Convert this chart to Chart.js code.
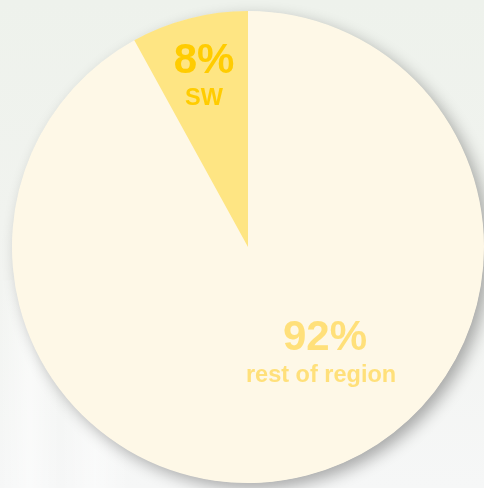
<!DOCTYPE html>
<html>
<head>
<meta charset="utf-8">
<script src="https://cdn.jsdelivr.net/npm/chart.js@4"></script>
<style>
  html, body { margin: 0; padding: 0; }
  body {
    width: 484px; height: 488px; overflow: hidden;
    background:
      linear-gradient(90deg, rgba(255,255,255,0) 0px, rgba(255,255,255,0.5) 30px, rgba(255,255,255,0) 60px, rgba(255,255,255,0.45) 95px, rgba(255,255,255,0) 130px) 0 280px / 160px 208px no-repeat,
      linear-gradient(180deg, #eef2ec 0%, #f1f3ef 45%, #f6f7f7 100%);
  }
  #wrap { position: relative; width: 484px; height: 488px; }
</style>
</head>
<body>
<div id="wrap"><canvas id="pie" width="484" height="488"></canvas></div>
<script>
const labels = ["rest of region", "SW"];
const shares = [92, 8];
const subLabels = ["rest of region", "SW"];

const SLICE_COLORS = ["#fef8e7", "#fee583"];
const TEXT_COLORS  = ["#ffe07a", "#ffcc00"];

// ── Drop shadow under the whole disc (drawn once, not per slice) ──
const pieShadow = {
  id: "pieShadow",
  beforeDatasetsDraw(chart) {
    const arc = chart.getDatasetMeta(0).data[0];
    if (!arc) return;
    const { x, y, outerRadius } = arc.getProps(["x", "y", "outerRadius"], true);
    const c = chart.ctx;
    c.save();
    c.shadowColor = "rgba(0,0,0,0.32)";
    c.shadowBlur = 16;
    c.shadowOffsetX = 6;
    c.shadowOffsetY = 6;
    c.fillStyle = SLICE_COLORS[0];
    c.beginPath();
    c.arc(x, y, outerRadius - 0.5, 0, Math.PI * 2);
    c.fill();
    c.restore();
  }
};

// ── Percent + name labels on each slice ──
// anchor = baseline of the percent text: (fraction of radius, degrees clockwise from 12 o'clock)
const LABEL_POS = [
  { r: 0.545, a: 143.2 },
  { r: 0.76, a: -14.2 }
];

const sliceLabels = {
  id: "sliceLabels",
  afterDatasetsDraw(chart) {
    const c = chart.ctx;
    const arcs = chart.getDatasetMeta(0).data;
    arcs.forEach((arc, i) => {
      const { x, y, outerRadius } = arc.getProps(["x", "y", "outerRadius"], true);
      const p = LABEL_POS[i];
      const ang = (p.a - 90) * Math.PI / 180;
      const cx = x + Math.cos(ang) * outerRadius * p.r;
      const cy = y + Math.sin(ang) * outerRadius * p.r;
      c.save();
      c.fillStyle = TEXT_COLORS[i];
      c.textAlign = "center";
      c.textBaseline = "alphabetic";
      c.font = "bold 42px 'Liberation Sans', Arial, sans-serif";
      c.fillText(shares[i] + "%", cx, cy);
      c.font = "bold 23.5px 'Liberation Sans', Arial, sans-serif";
      c.fillText(subLabels[i], cx - (i === 0 ? 4 : 0), cy + 32);
      c.restore();
    });
  }
};

new Chart(document.getElementById("pie"), {
  type: "pie",
  data: {
    labels,
    datasets: [{
      data: shares,
      backgroundColor: SLICE_COLORS,
      borderWidth: 0,
      hoverOffset: 0
    }]
  },
  options: {
    responsive: false,
    animation: false,
    rotation: 0,
    layout: { padding: { left: 12, right: 0, top: 10, bottom: 4 } },
    plugins: {
      legend: { display: false },
      tooltip: { enabled: false }
    }
  },
  plugins: [pieShadow, sliceLabels]
});
</script>
</body>
</html>
